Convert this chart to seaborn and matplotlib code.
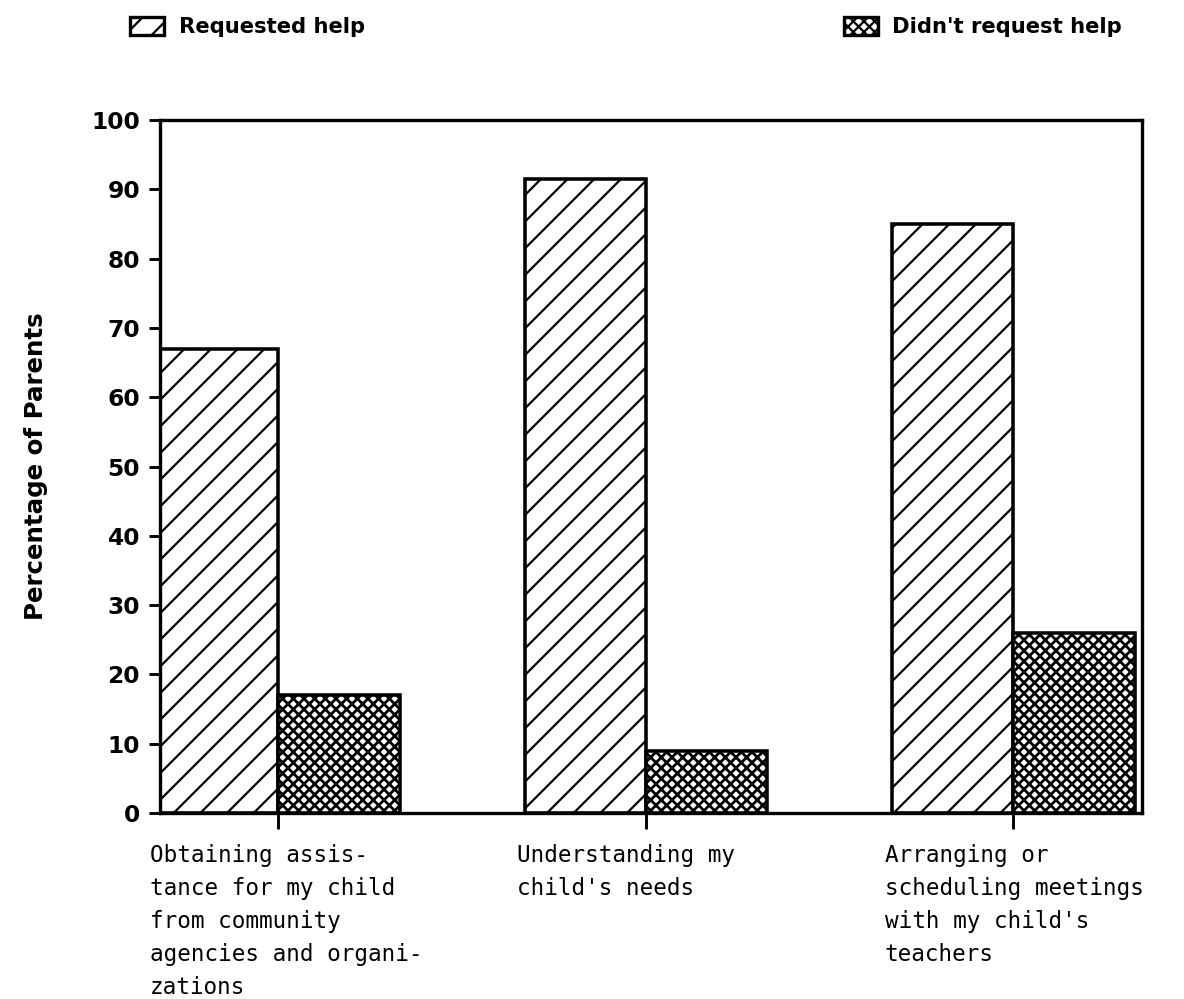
import matplotlib
matplotlib.use("Agg")
import matplotlib.pyplot as plt
import matplotlib.transforms as mtransforms
from matplotlib.patches import Patch
import seaborn as sns
import pandas as pd

# Survey data: percentage of parents per topic
categories = [
    "Obtaining assis-\ntance for my child\nfrom community\nagencies and organi-\nzations",
    "Understanding my\nchild's needs",
    "Arranging or\nscheduling meetings\nwith my child's\nteachers",
]
groups = ["Requested help", "Didn't request help"]
requested = [67, 91.5, 85]
not_requested = [17, 9, 26]
y_ticks = [0, 10, 20, 30, 40, 50, 60, 70, 80, 90, 100]

df = pd.DataFrame({
    "category": categories * 2,
    "group": [groups[0]] * 3 + [groups[1]] * 3,
    "pct": requested + not_requested,
})

sns.set_style("white")
plt.rcParams["font.family"] = ["DejaVu Sans"]
plt.rcParams["hatch.color"] = "black"
for key in ["text.color", "axes.labelcolor", "xtick.color", "ytick.color"]:
    plt.rcParams[key] = "black"

DPI = 160
fig = plt.figure(figsize=(1184 / DPI, 999 / DPI), dpi=DPI)
ax = fig.add_axes([160 / 1184, 1 - 813 / 999, (1142 - 160) / 1184, (813 - 120) / 999])

sns.barplot(data=df, x="category", y="pct", hue="group", hue_order=groups,
            palette=["white", "white"], edgecolor="black", linewidth=1.6,
            width=0.66, ax=ax, legend=False)

hatches = ["//", "xxxxx"]
hatch_lw = [1.0, 1.25]
for cont, h, hl in zip(ax.containers, hatches, hatch_lw):
    for bar in cont:
        bar.set_hatch(h)
        if hasattr(bar, "set_hatch_linewidth"):
            bar.set_hatch_linewidth(hl)

ax.set_xlim(-0.322, 2.35)
ax.set_ylim(0, 100)
ax.set_yticks(y_ticks)
ax.set_yticklabels([str(v) for v in y_ticks], fontsize=10.5, fontweight="bold")
ax.set_xticks(range(len(categories)))
ax.set_xticklabels([""] * len(categories))
ax.tick_params(axis="y", direction="out", length=5, width=1.3, left=True, pad=4)
ax.tick_params(axis="x", direction="out", length=7, width=1.3, bottom=True)
ax.set_xlabel("")
ax.set_ylabel("Percentage of Parents", fontsize=11, fontweight="bold")
ax.yaxis.set_label_coords(-0.114, 0.5)

for side in ["left", "right", "top", "bottom"]:
    ax.spines[side].set_visible(True)
    ax.spines[side].set_color("black")
    ax.spines[side].set_linewidth(1.5)

# Category captions, left-aligned under each group
trans = mtransforms.blended_transform_factory(ax.transData, ax.transAxes)
for i, lab in enumerate(categories):
    ax.text(i - 0.35, -0.045, lab, transform=trans, ha="left", va="top",
            fontsize=10.2, family="DejaVu Sans Mono", linespacing=1.55)

# Legend across the top
leg_handles = [Patch(facecolor="white", edgecolor="black", hatch=h, linewidth=1.5)
               for h in hatches]
leg = fig.legend(leg_handles, groups, loc="upper left", ncol=2,
                 bbox_to_anchor=(111 / 1184, 1 + 2 / 999), frameon=False,
                 prop={"size": 9.5, "weight": "bold"},
                 handlelength=1.6, handleheight=0.9, handletextpad=0.7,
                 columnspacing=22.7)

fig.savefig("out.png", dpi=DPI)
